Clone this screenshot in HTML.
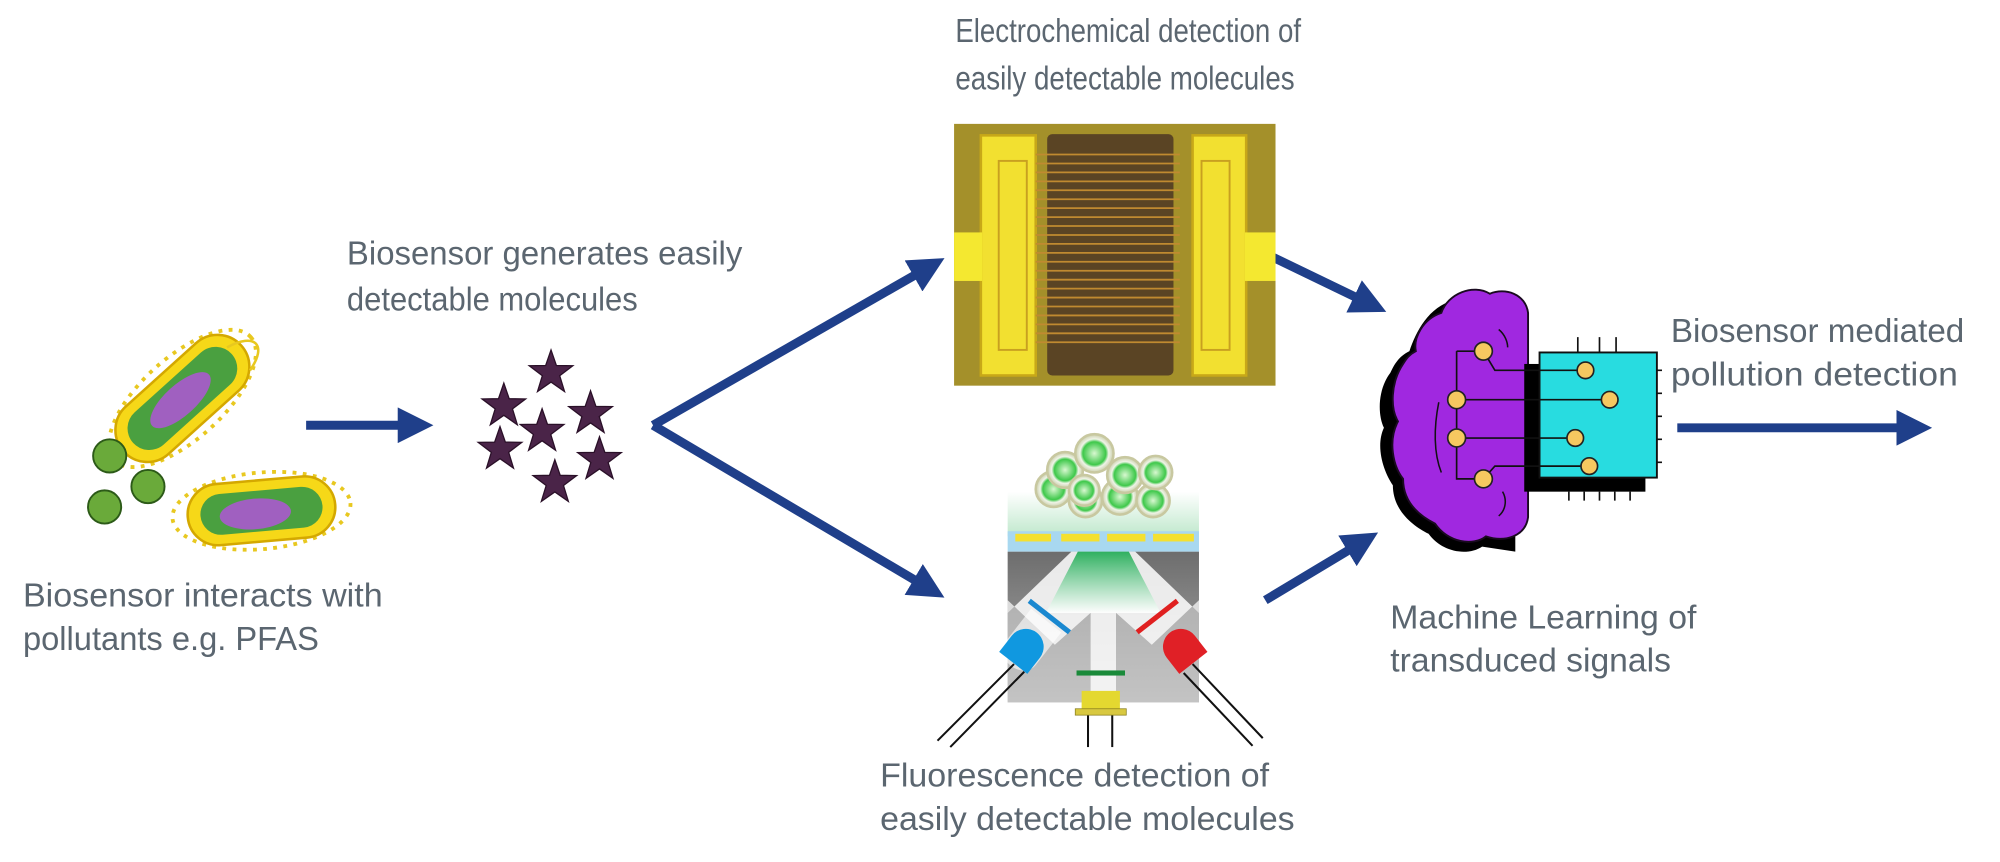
<!DOCTYPE html>
<html><head><meta charset="utf-8"><style>
html,body{margin:0;padding:0;background:#fff;}
svg{display:block}
text{font-family:"Liberation Sans",sans-serif;fill:#5b6670;font-size:26px}
.g{font-family:"Liberation Sans",sans-serif;font-size:26px}
</style></head><body>
<svg width="2000" height="862" viewBox="0 0 1568 675" preserveAspectRatio="none" xmlns="http://www.w3.org/2000/svg">
<defs>
<marker id="ah" markerWidth="4" markerHeight="4" refX="2.6" refY="2" orient="auto" markerUnits="strokeWidth">
<path d="M0,0 L4,2 L0,4 Z" fill="#1f3f8a"/></marker>
<linearGradient id="gl" x1="0" y1="0" x2="0" y2="1"><stop offset="0" stop-color="#fff"/><stop offset="1" stop-color="#bfe8cc"/></linearGradient>
<linearGradient id="gt" x1="0" y1="0" x2="0" y2="1"><stop offset="0" stop-color="#2fb060"/><stop offset="1" stop-color="#fff" stop-opacity="0.9"/></linearGradient>
<radialGradient id="cell"><stop offset="0" stop-color="#d8f8d0"/><stop offset="0.6" stop-color="#3ec84a"/><stop offset="0.75" stop-color="#f0f4e8"/><stop offset="1" stop-color="#c8cca8"/></radialGradient>
<linearGradient id="box" x1="0" y1="0" x2="0" y2="1"><stop offset="0" stop-color="#6d6d6d"/><stop offset="1" stop-color="#b0b0b0"/></linearGradient>
</defs>

<text x="18" y="475" textLength="282" lengthAdjust="spacingAndGlyphs">Biosensor interacts with</text>
<text x="18" y="509" textLength="232" lengthAdjust="spacingAndGlyphs">pollutants e.g. PFAS</text>
<text x="272" y="207" textLength="310" lengthAdjust="spacingAndGlyphs">Biosensor generates easily</text>
<text x="272" y="243" textLength="228" lengthAdjust="spacingAndGlyphs">detectable molecules</text>
<text class="g" x="749" y="33" textLength="271" lengthAdjust="spacingAndGlyphs">Electrochemical detection of</text>
<text class="g" x="749" y="70" textLength="266" lengthAdjust="spacingAndGlyphs">easily detectable molecules</text>
<text class="g" x="690" y="616" textLength="305" lengthAdjust="spacingAndGlyphs">Fluorescence detection of</text>
<text class="g" x="690" y="650" textLength="325" lengthAdjust="spacingAndGlyphs">easily detectable molecules</text>
<text x="1090" y="492" textLength="240" lengthAdjust="spacingAndGlyphs">Machine Learning of</text>
<text x="1090" y="526" textLength="220" lengthAdjust="spacingAndGlyphs">transduced signals</text>
<text x="1310" y="268" textLength="230" lengthAdjust="spacingAndGlyphs">Biosensor mediated</text>
<text x="1310" y="302" textLength="225" lengthAdjust="spacingAndGlyphs">pollution detection</text>

<g stroke="#1f3f8a" stroke-width="7" fill="none" marker-end="url(#ah)">
<line x1="240" y1="333" x2="330" y2="333"/>
<line x1="512" y1="333" x2="732" y2="207"/>
<line x1="512" y1="333" x2="732" y2="463"/>
<line x1="995" y1="200" x2="1078" y2="240"/>
<line x1="992" y1="470" x2="1072" y2="422"/>
<line x1="1315" y1="335" x2="1505" y2="335"/>
</g>

<g transform="translate(143,312) rotate(-42)">
<ellipse cx="0" cy="0" rx="72" ry="32" fill="none" stroke="#e8c820" stroke-width="3" stroke-dasharray="3 5"/>
<rect x="-62" y="-25" width="124" height="50" rx="25" fill="#f6d818" stroke="#d4a800" stroke-width="2"/>
<rect x="-52" y="-17" width="104" height="34" rx="17" fill="#4aa040"/>
<ellipse cx="-2" cy="0" rx="30" ry="12" fill="#a060c0"/>
</g>
<path d="M178 272 C200 260 210 270 196 290" stroke="#e8c820" stroke-width="2" fill="none"/>
<g transform="translate(205,400) rotate(-5)">
<ellipse cx="0" cy="0" rx="70" ry="30" fill="none" stroke="#e8c820" stroke-width="3" stroke-dasharray="3 5"/>
<rect x="-58" y="-24" width="116" height="48" rx="24" fill="#f6d818" stroke="#d4a800" stroke-width="2"/>
<rect x="-48" y="-16" width="96" height="32" rx="16" fill="#4aa040"/>
<ellipse cx="-5" cy="2" rx="28" ry="12" fill="#a060c0"/>
</g>
<g fill="#6aaa3a" stroke="#2c5a18" stroke-width="1.5">
<circle cx="86" cy="357" r="13"/><circle cx="116" cy="381" r="13"/><circle cx="82" cy="397" r="13"/>
</g>

<g fill="#4a2448" stroke="#2a1028" stroke-width="1">
<path id="st" d="M0,-18 L4.2,-5.8 L17.1,-5.6 L6.8,2.2 L10.6,14.6 L0,7.2 L-10.6,14.6 L-6.8,2.2 L-17.1,-5.6 L-4.2,-5.8 Z" transform="translate(432,292)"/>
<use href="#st" transform="translate(-37,26)"/>
<use href="#st" transform="translate(31,32)"/>
<use href="#st" transform="translate(-7,46)"/>
<use href="#st" transform="translate(-40,60)"/>
<use href="#st" transform="translate(38,68)"/>
<use href="#st" transform="translate(3,86)"/>
</g>

<rect x="748" y="97" width="252" height="205" fill="#a4902a"/>
<rect x="769" y="106" width="43" height="188" fill="#f2e030" stroke="#c8a818" stroke-width="2"/>
<rect x="748" y="182" width="22" height="38" fill="#f4e830"/>
<rect x="783" y="126" width="22" height="148" fill="none" stroke="#c8a020" stroke-width="1.5"/>
<rect x="935" y="106" width="42" height="188" fill="#f2e030" stroke="#c8a818" stroke-width="2"/>
<rect x="976" y="182" width="24" height="38" fill="#f4e830"/>
<rect x="942" y="126" width="22" height="148" fill="none" stroke="#c8a020" stroke-width="1.5"/>
<rect x="821" y="105" width="99" height="189" rx="4" fill="#5a4424"/>
<g stroke="#c08a30" stroke-width="1.4">
<path d="M812 121H925M812 128H925M812 135H925M812 142H925M812 149H925M812 156H925M812 163H925M812 170H925M812 177H925M812 184H925M812 191H925M812 198H925M812 205H925M812 212H925M812 219H925M812 226H925M812 233H925M812 240H925M812 247H925M812 254H925M812 261H925M812 268H925"/>
</g>

<rect x="790" y="385" width="150" height="35" fill="url(#gl)"/>
<rect x="790" y="416" width="150" height="16" fill="#a8d8f0"/>
<g fill="#f4e030"><rect x="796" y="418" width="28" height="6"/><rect x="832" y="418" width="30" height="6"/><rect x="868" y="418" width="30" height="6"/><rect x="904" y="418" width="32" height="6"/></g>
<g stroke="#c8c8a0" stroke-width="2" fill="url(#cell)">
<circle cx="826" cy="383" r="14"/><circle cx="851" cy="392" r="13"/><circle cx="878" cy="389" r="14"/><circle cx="904" cy="392" r="13"/>
<circle cx="835" cy="368" r="14"/><circle cx="858" cy="355" r="15"/><circle cx="882" cy="372" r="14"/><circle cx="906" cy="370" r="13"/><circle cx="850" cy="384" r="12"/>
</g>
<rect x="790" y="432" width="150" height="118" fill="url(#box)"/>
<path d="M840 432 H890 L940 480 L940 470 L903 505 L875 480 V550 H855 V480 L827 505 L790 470 V480 Z" fill="#fff" opacity="0.85"/>
<path d="M845 432 H885 L910 480 H820 Z" fill="url(#gt)"/>
<path d="M790 470 L827 505 L855 480 L855 550 L790 550 Z" fill="#d0d0d0" opacity="0.6"/>
<path d="M940 470 L903 505 L875 480 L875 550 L940 550 Z" fill="#d0d0d0" opacity="0.6"/>
<g transform="translate(803,508) rotate(38)">
<rect x="-20" y="-34" width="40" height="4" fill="#1a88d0"/>
<path d="M-15 -28 H15 V5 H-15 Z M-15 5 A15 12 0 0 0 15 5" fill="#fff" opacity="0.6"/>
<path d="M-14 -2 H14 V14 A14 14 0 0 1 -14 14 Z" fill="#1098e0" transform="rotate(180 0 6)"/>
</g>
<g transform="translate(927,508) rotate(-38)">
<rect x="-20" y="-34" width="40" height="4" fill="#e02020"/>
<path d="M-14 -2 H14 V14 A14 14 0 0 1 -14 14 Z" fill="#e02026" transform="rotate(180 0 6)"/>
</g>
<g stroke="#111" stroke-width="1.6">
<line x1="795" y1="520" x2="735" y2="580"/><line x1="803" y1="526" x2="745" y2="585"/>
<line x1="935" y1="520" x2="990" y2="578"/><line x1="928" y1="527" x2="982" y2="584"/>
<line x1="853" y1="560" x2="853" y2="585"/><line x1="872" y1="560" x2="872" y2="585"/>
</g>
<rect x="844" y="525" width="38" height="4" fill="#1a8a3a"/>
<rect x="848" y="541" width="30" height="14" fill="#e4d830"/>
<rect x="843" y="555" width="40" height="5" fill="#d8c840" stroke="#8a8020" stroke-width="0.6"/>

<path d="M1090 292 C1080 305 1080 325 1085 335 C1078 350 1085 370 1092 380 C1092 400 1108 412 1120 418 C1130 432 1150 436 1162 428 L1188 432 L1188 240 L1140 235 C1120 240 1110 260 1105 275 C1095 280 1092 288 1090 292 Z" fill="#000"/>
<path d="M1100 285 C1090 300 1090 320 1096 330 C1088 345 1092 365 1100 375 C1100 395 1115 405 1125 410 C1135 425 1155 428 1165 420 C1180 425 1196 420 1198 405 L1198 245 C1196 230 1180 225 1168 230 C1155 222 1135 230 1130 245 C1115 250 1108 265 1110 275 C1104 278 1102 282 1100 285 Z" fill="#a028e0" stroke="#1a0a20" stroke-width="1.5"/>
<path d="M1128 315 C1124 335 1124 355 1130 370" stroke="#111" fill="none" stroke-width="1.2"/>
<path d="M1175 258 C1180 262 1182 268 1182 272" stroke="#111" fill="none" stroke-width="1.2"/>
<path d="M1178 385 C1182 392 1180 400 1175 404" stroke="#111" fill="none" stroke-width="1.2"/>
<rect x="1195" y="285" width="95" height="100" fill="#000"/>
<rect x="1207" y="276" width="92" height="98" fill="#28dce0" stroke="#111" stroke-width="1.5"/>
<g stroke="#111" stroke-width="1.3" fill="none">
<path d="M1237 276V264M1254 276V264M1267 276V264"/>
<path d="M1230 385V392M1242 385V392M1254 385V392M1266 385V392M1278 385V392"/>
<path d="M1299 290h4M1299 308h4M1299 326h4M1299 344h4M1299 362h4"/>
<path d="M1142 275 H1163 M1142 275 V375 H1163 M1163 275 L1172 290 H1243 M1142 313 H1262 M1142 343 H1235 M1163 375 L1172 365 H1246"/>
</g>
<g fill="#f6c860" stroke="#222" stroke-width="1.3">
<circle cx="1163" cy="275" r="7"/><circle cx="1142" cy="313" r="7"/><circle cx="1142" cy="343" r="7"/><circle cx="1163" cy="375" r="7"/>
<circle cx="1243" cy="290" r="6.5"/><circle cx="1262" cy="313" r="6.5"/><circle cx="1235" cy="343" r="6.5"/><circle cx="1246" cy="365" r="6.5"/>
</g>
</svg>
</body></html>
